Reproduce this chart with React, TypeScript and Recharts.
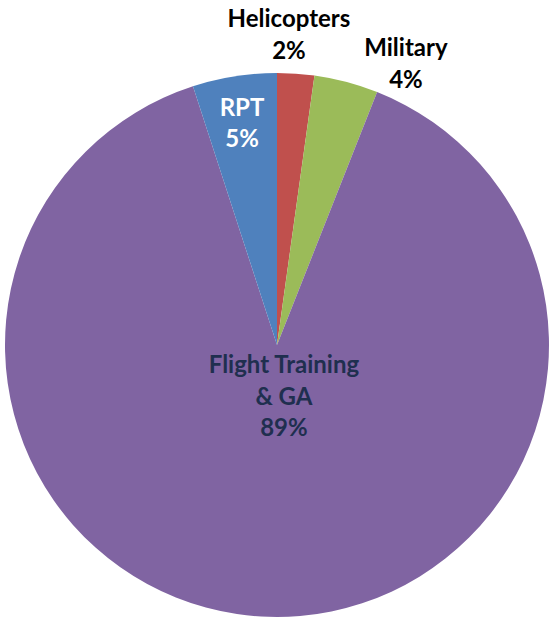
import React from "react";
import { PieChart, Pie, Cell } from "recharts";

const categories = ["Helicopters", "Military", "Flight Training\n& GA", "RPT"];
const values = [2.2, 3.8, 89.0, 5.0];
const colors = ["#C0504D", "#9BBB59", "#8064A2", "#4F81BD"];
const labelColors = ["#000000", "#000000", "#1F2F4F", "#FFFFFF"];
// label placement: radius from centre and angle (degrees, recharts convention)
const labelRadius = [312, 311, 50, 226];
const labelAngle = [87.8, 65.5, -82, 98.9];

const data = categories.map((name, i) => ({ name, value: values[i] }));

const RAD = Math.PI / 180;

const renderLabel = (props: any) => {
  const { cx, cy, index, percent } = props;
  const r = labelRadius[index];
  const a = labelAngle[index];
  const x = cx + Math.cos(-a * RAD) * r;
  const y = cy + Math.sin(-a * RAD) * r;
  const lines = [...String(categories[index]).split("\n"), `${Math.round(percent * 100)}%`];
  const lh = 31.5;
  const y0 = y - ((lines.length - 1) * lh) / 2;
  return (
    <text
      x={x}
      y={y0}
      textAnchor="middle"
      dominantBaseline="central"
      fill={labelColors[index]}
      style={{ fontFamily: "Lato, 'Open Sans', sans-serif", fontWeight: 700, fontSize: 24 }}
    >
      {lines.map((l, i) => (
        <tspan key={i} x={x} y={y0 + i * lh} dominantBaseline="central">
          {l}
        </tspan>
      ))}
    </text>
  );
};

export default function App() {
  return (
    <div style={{ position: "absolute", left: 0, top: 0, width: 550, height: 620, background: "#fff" }}>
      <PieChart width={550} height={620} margin={{ top: 0, right: 0, bottom: 0, left: 0 }}>
        <Pie
          data={data}
          dataKey="value"
          nameKey="name"
          cx={277}
          cy={345}
          outerRadius={272}
          startAngle={90}
          endAngle={-270}
          stroke="none"
          labelLine={false}
          label={renderLabel}
          isAnimationActive={false}
        >
          {data.map((d, i) => (
            <Cell key={d.name} fill={colors[i]} />
          ))}
        </Pie>
      </PieChart>
    </div>
  );
}
